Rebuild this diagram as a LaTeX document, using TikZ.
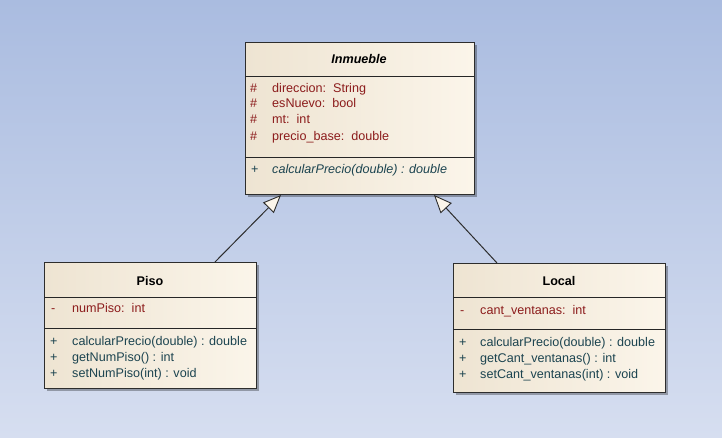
\documentclass[tikz,border=0pt]{standalone}
\usepackage{fontspec}
\setmainfont{Liberation Sans}
\usetikzlibrary{arrows.meta,shadows}
\definecolor{bgtop}{RGB}{170,188,224}
\definecolor{bgbot}{RGB}{214,222,240}
\definecolor{boxL}{RGB}{238,228,210}
\definecolor{boxR}{RGB}{251,245,234}
\definecolor{attrc}{RGB}{140,28,28}
\definecolor{methc}{RGB}{28,68,80}
\definecolor{edgec}{RGB}{45,45,45}
\begin{document}
\begin{tikzpicture}[x=1pt,y=-1pt,
  font=\fontsize{12.6}{14}\selectfont,
  classbox/.style={draw=edgec, line width=0.9pt, left color=boxL, right color=boxR,
    anchor=north west, inner sep=0pt,
    drop shadow={shadow xshift=3pt, shadow yshift=-3pt, opacity=0.3, fill=black}},
  divider/.style={draw=black!85, line width=0.9pt},
  title/.style={font=\fontsize{12.6}{14}\selectfont\bfseries, text=black},
  attr/.style={anchor=base west, inner sep=0pt, text=attrc},
  meth/.style={anchor=base west, inner sep=0pt, text=methc},
  inherit/.style={draw=edgec, line width=1pt,
    -{Triangle[open, fill=boxR, length=18pt, width=15pt, line width=0.9pt]}}]
\useasboundingbox (0,0) rectangle (722,437);
\fill[top color=bgtop, bottom color=bgbot] (0,0) rectangle (722,437);

% Inmueble
\node[classbox, minimum width=229pt, minimum height=152pt] (inm) at (245,42) {};
\draw[divider] (245,76) -- (474,76);
\draw[divider] (245,157) -- (474,157);
\node[title, font=\fontsize{12.6}{14}\selectfont\bfseries\itshape] (inmT) at (359,59) {Inmueble};
\node[attr] (ia1s) at (250,92) {\#};
\node[attr] (ia1) at (272,92) {direccion:\ \ String};
\node[attr] (ia2s) at (250,107) {\#};
\node[attr] (ia2) at (272,107) {esNuevo:\ \ bool};
\node[attr] (ia3s) at (250,123) {\#};
\node[attr] (ia3) at (272,123) {mt:\ \ int};
\node[attr] (ia4s) at (250,140) {\#};
\node[attr] (ia4) at (272,140) {precio\_base:\ \ double};
\node[meth] (im1s) at (251,173) {+};
\node[meth, font=\fontsize{12.6}{14}\selectfont\itshape] (im1) at (272,173) {calcularPrecio(double) : double};

% Piso
\node[classbox, minimum width=212pt, minimum height=126pt] (piso) at (44,262) {};
\draw[divider] (44,297) -- (256,297);
\draw[divider] (44,328) -- (256,328);
\node[title] (pisoT) at (150,281) {Piso};
\node[attr] (pa1s) at (51,312) {-};
\node[attr] (pa1) at (72,312) {numPiso:\ \ int};
\node[meth] (pm1s) at (50,345) {+};
\node[meth] (pm1) at (72,345) {calcularPrecio(double) : double};
\node[meth] (pm2s) at (50,361) {+};
\node[meth] (pm2) at (72,361) {getNumPiso() : int};
\node[meth] (pm3s) at (50,377) {+};
\node[meth] (pm3) at (72,377) {setNumPiso(int) : void};

% Local
\node[classbox, minimum width=212pt, minimum height=129pt] (loc) at (453,263) {};
\draw[divider] (453,297) -- (665,297);
\draw[divider] (453,329) -- (665,329);
\node[title] (locT) at (559,281) {Local};
\node[attr] (la1s) at (460,314) {-};
\node[attr] (la1) at (480,314) {cant\_ventanas:\ \ int};
\node[meth] (lm1s) at (459,346) {+};
\node[meth] (lm1) at (480,346) {calcularPrecio(double) : double};
\node[meth] (lm2s) at (459,362) {+};
\node[meth] (lm2) at (480,362) {getCant\_ventanas() : int};
\node[meth] (lm3s) at (459,378) {+};
\node[meth] (lm3) at (480,378) {setCant\_ventanas(int) : void};

% generalizations
\coordinate (pisoTop) at (215,262);
\coordinate (inmL) at (281,195);
\coordinate (locTop) at (497,263);
\coordinate (inmR) at (434,195);
\draw[inherit] (pisoTop) -- (inmL);
\draw[inherit] (locTop) -- (inmR);
\end{tikzpicture}
\end{document}
